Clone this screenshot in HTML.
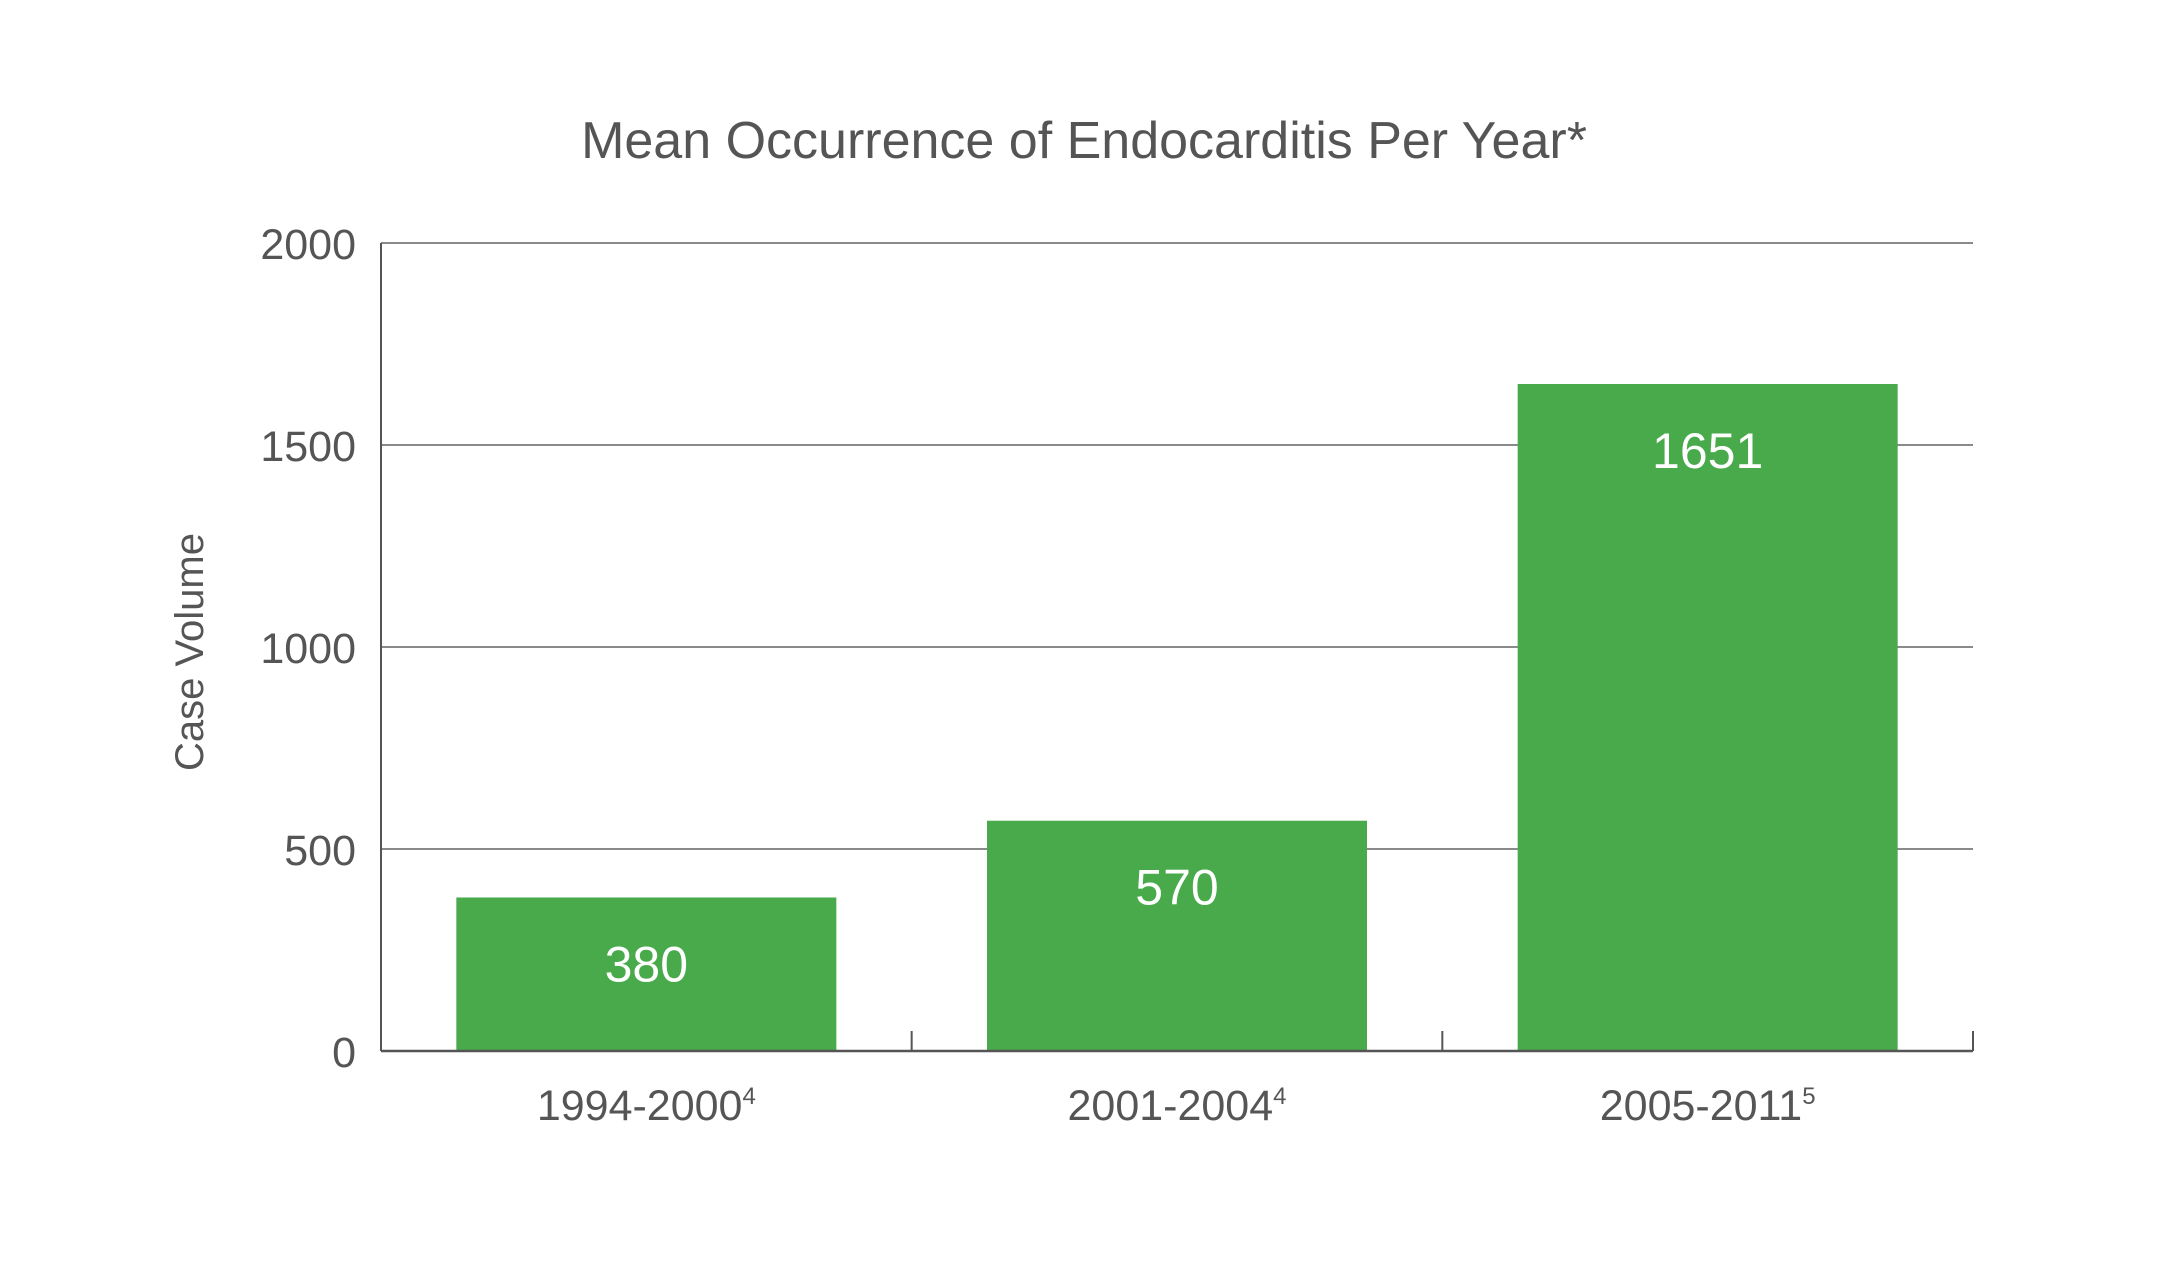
<!DOCTYPE html>
<html><head><meta charset="utf-8"><style>
html,body{margin:0;padding:0;background:#fff;}
svg{display:block;font-family:"Liberation Sans",sans-serif;}
</style></head><body>
<svg id="chart" width="2169" height="1275" viewBox="0 0 2169 1275">
<text x="1084" y="158" text-anchor="middle" font-size="52" fill="#555">Mean Occurrence of Endocarditis Per Year*</text>
<text transform="translate(203,652) rotate(-90)" text-anchor="middle" font-size="40" fill="#555">Case Volume</text>
<g id="grid"></g><g id="bars"></g><g id="axes"></g><g id="labels"></g>
</svg>
<script>
const categories = ["1994-2000", "2001-2004", "2005-2011"];
const superscripts = ["4", "4", "5"];
const values = [380, 570, 1651];
const yTicks = [0, 500, 1000, 1500, 2000];

const NS = "http://www.w3.org/2000/svg";
const x0 = 381, x1 = 1973, yBase = 1051, yTop = 243, yMax = 2000;
const bandW = (x1 - x0) / categories.length, barW = 380;
function yScale(v){ return yBase - (v / yMax) * (yBase - yTop); }
function xCenter(i){ return x0 + bandW * (i + 0.5); }
function mk(tag, attrs, parent){ const e = document.createElementNS(NS, tag); for (const k in attrs) e.setAttribute(k, attrs[k]); parent.appendChild(e); return e; }
const grid = document.getElementById('grid'), bars = document.getElementById('bars'), axes = document.getElementById('axes'), labels = document.getElementById('labels');

yTicks.forEach(t => {
  const y = yScale(t);
  if (t > 0) {
    const l = mk('line', {x1: x0, x2: x1, y1: y, y2: y, stroke: '#8a8a8a', 'stroke-width': 2}, grid);
    
    
  }
  const tx = mk('text', {x: 356, y: y + 16, 'text-anchor': 'end', 'font-size': 43, fill: '#555'}, labels);
  tx.textContent = t;
  
  
});

values.forEach((v, i) => {
  const cx = xCenter(i), top = yScale(v);
  const r = mk('rect', {x: cx - barW / 2, y: top, width: barW, height: yBase - top, fill: '#48aa4b'}, bars);
  
  
  const vl = mk('text', {x: cx, y: top + 84, 'text-anchor': 'middle', 'font-size': 50, fill: '#fff'}, labels);
  vl.textContent = v;
  
  
  const cl = mk('text', {x: cx, y: 1120, 'text-anchor': 'middle', 'font-size': 43, fill: '#555'}, labels);
  cl.textContent = categories[i];
  const sup = mk('tspan', {dy: -16, 'font-size': 24}, cl);
  sup.textContent = superscripts[i];
  
  
});

const ya = mk('line', {x1: x0, x2: x0, y1: yTop, y2: yBase, stroke: '#555', 'stroke-width': 2}, axes);


const xa = mk('line', {x1: x0, x2: x1, y1: yBase, y2: yBase, stroke: '#555', 'stroke-width': 2.5}, axes);


for (let i = 1; i <= categories.length; i++) {
  const tx = x0 + bandW * i;
  const tk = mk('line', {x1: tx, x2: tx, y1: yBase - 20, y2: yBase, stroke: '#555', 'stroke-width': 2}, axes);
  
  
}
</script>
</body></html>
